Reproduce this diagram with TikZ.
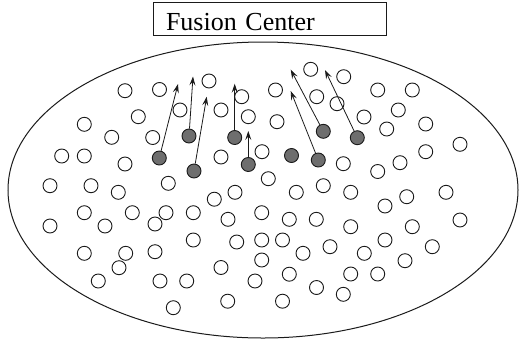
\documentclass[tikz,border=0pt]{standalone}
\usepackage{fontspec}
\setmainfont{Liberation Serif}
\usetikzlibrary{arrows.meta}
\definecolor{ink}{HTML}{1A1A1A}
\definecolor{lead}{HTML}{6E6E6E}
\tikzset{
  onode/.style={circle,draw=ink,fill=white,minimum size=14pt,inner sep=0pt,line width=0.9pt},
  anode/.style={onode,fill=lead},
  sedge/.style={-{Stealth[length=9pt,width=6pt,inset=3.5pt]},line width=0.8pt,color=ink},
  fcbox/.style={draw=ink,line width=0.9pt,minimum width=233pt,minimum height=33pt,
    inner xsep=13pt,inner ysep=0pt,text width=207pt,align=left,
    text height=24pt,text depth=0pt,font=\fontsize{26}{30}\selectfont},
}
\begin{document}
\begin{tikzpicture}[x=1pt,y=-1pt]
  \useasboundingbox (0,0) rectangle (519,346);
  \node[fcbox] (fc) at (269.5,18.5){Fusion Center};
  \draw[ink,line width=1pt] (263,190) ellipse [x radius=255,y radius=148];
  % idle sensors
  \node[onode] (s1) at (125,90.7){}; \node[onode] (s2) at (159.5,89.5){}; \node[onode] (s3) at (209,81){};
  \node[onode] (s4) at (241.7,96.7){}; \node[onode] (s5) at (180,110){}; \node[onode] (s6) at (138.3,116.7){};
  \node[onode] (s7) at (221,110){}; \node[onode] (s8) at (248.3,116.7){}; \node[onode] (s9) at (84.3,124.3){};
  \node[onode] (s10) at (111.7,137.3){}; \node[onode] (s11) at (152.7,137.5){}; \node[onode] (s12) at (61.7,156){};
  \node[onode] (s13) at (84.3,156){}; \node[onode] (s14) at (125,164){}; \node[onode] (s15) at (221,157){};
  \node[onode] (s16) at (262,151.7){}; \node[onode] (s17) at (310.7,69.3){}; \node[onode] (s18) at (343.7,76.7){};
  \node[onode] (s19) at (275.5,90){}; \node[onode] (s20) at (316.7,96.7){}; \node[onode] (s21) at (337,103.7){};
  \node[onode] (s22) at (377.7,90){}; \node[onode] (s23) at (412.3,90){}; \node[onode] (s24) at (398.3,110){};
  \node[onode] (s25) at (364,117){}; \node[onode] (s26) at (277,121.7){}; \node[onode] (s27) at (386.7,129){};
  \node[onode] (s28) at (425.7,124){}; \node[onode] (s29) at (460,144.3){}; \node[onode] (s30) at (425.7,151.7){};
  \node[onode] (s31) at (343.3,163.7){}; \node[onode] (s32) at (400,162.7){}; \node[onode] (s33) at (377.7,171.5){};
  \node[onode] (s34) at (268.3,178.7){}; \node[onode] (s35) at (50,185.7){}; \node[onode] (s36) at (91,185.7){};
  \node[onode] (s37) at (118.3,192.3){}; \node[onode] (s38) at (168.3,183.3){}; \node[onode] (s39) at (214.3,199.2){};
  \node[onode] (s40) at (235,192.3){}; \node[onode] (s41) at (84.3,212.7){}; \node[onode] (s42) at (132.3,212.7){};
  \node[onode] (s43) at (166,212.7){}; \node[onode] (s44) at (193.3,212.7){}; \node[onode] (s45) at (228,219.3){};
  \node[onode] (s46) at (50,226){}; \node[onode] (s47) at (105,226){}; \node[onode] (s48) at (155,224){};
  \node[onode] (s49) at (193.3,240){}; \node[onode] (s50) at (236.7,242){}; \node[onode] (s51) at (84.3,253.3){};
  \node[onode] (s52) at (125.7,253.3){}; \node[onode] (s53) at (155,251.7){}; \node[onode] (s54) at (119,267.7){};
  \node[onode] (s55) at (221,267.5){}; \node[onode] (s56) at (98.3,281){}; \node[onode] (s57) at (160,281){};
  \node[onode] (s58) at (186.7,281){}; \node[onode] (s59) at (227.7,301.2){}; \node[onode] (s60) at (173.3,307.7){};
  \node[onode] (s61) at (296.3,192.3){}; \node[onode] (s62) at (323.3,185.7){}; \node[onode] (s63) at (350.7,192.3){};
  \node[onode] (s64) at (385,206){}; \node[onode] (s65) at (406.7,196.7){}; \node[onode] (s66) at (446,192.3){};
  \node[onode] (s67) at (261.7,212.7){}; \node[onode] (s68) at (289.3,219.3){}; \node[onode] (s69) at (316.3,219.3){};
  \node[onode] (s70) at (350.7,226.7){}; \node[onode] (s71) at (412.3,226.7){}; \node[onode] (s72) at (460,220){};
  \node[onode] (s73) at (261.7,240){}; \node[onode] (s74) at (282.5,240){}; \node[onode] (s75) at (303,253.3){};
  \node[onode] (s76) at (330,246.7){}; \node[onode] (s77) at (364.3,253.3){}; \node[onode] (s78) at (385,240){};
  \node[onode] (s79) at (432.3,246.7){}; \node[onode] (s80) at (261.7,260){}; \node[onode] (s81) at (405,260.7){};
  \node[onode] (s82) at (289.3,274.2){}; \node[onode] (s83) at (350.7,274){}; \node[onode] (s84) at (377.7,274){};
  \node[onode] (s85) at (255,281){}; \node[onode] (s86) at (316.5,287.5){}; \node[onode] (s87) at (343.3,294.3){};
  \node[onode] (s88) at (282.5,301.2){};
  % active sensors
  \node[anode] (a1) at (159.3,158){}; \node[anode] (a2) at (189,136){}; \node[anode] (a3) at (194,171){};
  \node[anode] (a4) at (234.7,137.5){}; \node[anode] (a5) at (248.3,164.5){}; \node[anode] (a6) at (323.3,131.3){};
  \node[anode] (a7) at (357.3,137.7){}; \node[anode] (a8) at (291.5,155.5){}; \node[anode] (a9) at (318.3,160){};
  \coordinate (t1) at (178,84); \coordinate (t2) at (193,76.5); \coordinate (t3) at (206.7,96.7);
  \coordinate (t4) at (234.7,83.7); \coordinate (t5) at (248.3,131); \coordinate (t6) at (290.7,69.7);
  \coordinate (t7) at (325,70); \coordinate (t9) at (290.7,91);
  \draw[sedge] (a1)--(t1); \draw[sedge] (a2)--(t2); \draw[sedge] (a3)--(t3);
  \draw[sedge] (a4)--(t4); \draw[sedge] (a5)--(t5); \draw[sedge] (a6)--(t6);
  \draw[sedge] (a7)--(t7); \draw[sedge] (a9)--(t9);
\end{tikzpicture}
\end{document}
